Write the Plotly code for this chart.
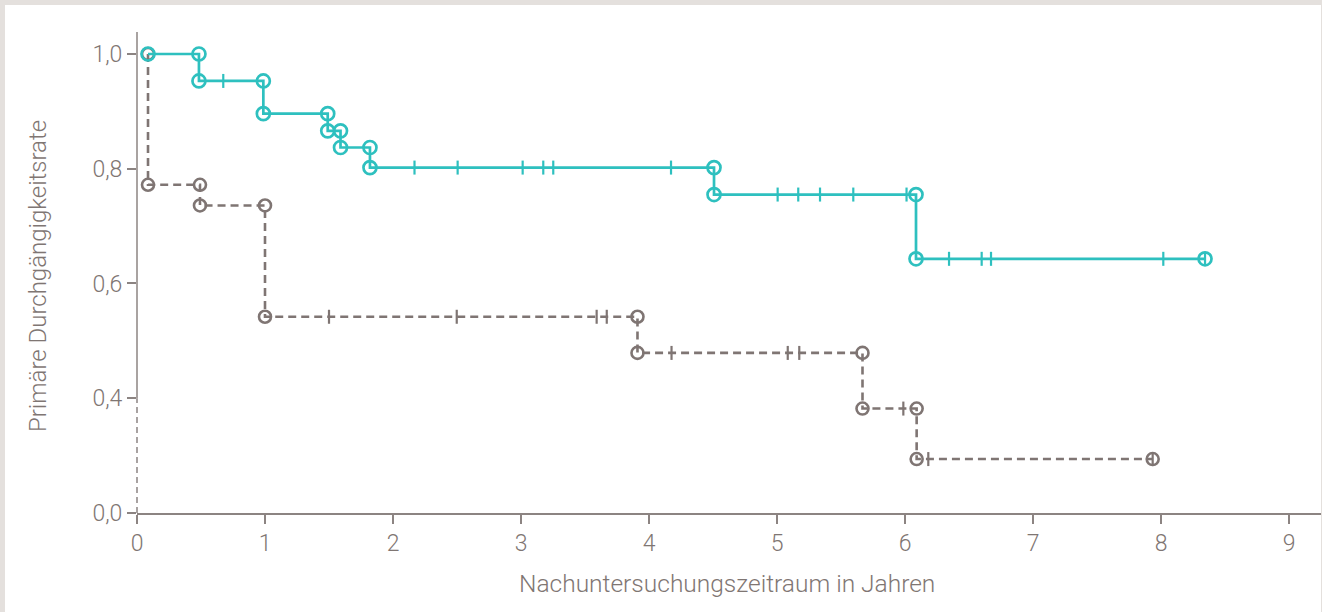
import plotly.graph_objects as go

# Kaplan-Meier curves: primary patency over follow-up time (years)
# Teal group
teal_start_time = 0.086
teal_start_level = 1.0
teal_step_times = [0.484, 0.987, 1.49, 1.59, 1.82, 4.508, 6.086]
teal_step_levels = [0.953, 0.896, 0.866, 0.837, 0.802, 0.755, 0.643]
teal_end_time = 8.344
teal_censored = [0.674, 2.168, 2.505, 3.013, 3.174, 3.252, 4.172, 5.005, 5.166,
                 5.336, 5.596, 6.012, 6.344, 6.599, 6.672, 8.018, 8.344]

# Gray group
gray_start_time = 0.086
gray_start_level = 1.0
gray_step_times = [0.086, 0.492, 1.0, 3.91, 5.668, 6.091]
gray_step_levels = [0.772, 0.736, 0.542, 0.479, 0.382, 0.294]
gray_end_time = 7.935
gray_censored = [1.5, 2.498, 3.591, 3.67, 4.176, 5.084, 5.174, 5.987, 6.182, 7.935]

# Axis ticks (the bottom of the value axis is broken; its lowest tick reads 0,0)
y_tickvals = [0.2, 0.4, 0.6, 0.8, 1.0]
y_ticktext = ["0,0", "0,4", "0,6", "0,8", "1,0"]
x_tickvals = [0, 1, 2, 3, 4, 5, 6, 7, 8, 9]

TEAL = "#2ec0bf"
GRAY = "#7f7573"
AXIS = "#8c8482"
TEXT = "#7f7673"
BORDER = "#e4e0dd"
FONT = "Roboto"

W, H = 1322, 612
ML, MR, MT, MB = 137, 1, 32, 99
X_RANGE = [0, 9.25]
Y_RANGE = [0.2, 1.0383]


def step_path(t0, s0, times, levels, t_end):
    xs, ys = [t0], [s0]
    cur = s0
    for t, s in zip(times, levels):
        if not (xs[-1] == t and ys[-1] == cur):
            xs.append(t)
            ys.append(cur)
        xs.append(t)
        ys.append(s)
        cur = s
    xs.append(t_end)
    ys.append(cur)
    return xs, ys


def level_at(t, t0, s0, times, levels):
    cur = s0
    for tt, s in zip(times, levels):
        if t >= tt:
            cur = s
    return cur


fig = go.Figure()

# Gray group (dashed), drawn first so the teal markers sit above it
gx, gy = step_path(gray_start_time, gray_start_level, gray_step_times,
                   gray_step_levels, gray_end_time)
fig.add_trace(go.Scatter(
    x=gx, y=gy, mode="lines+markers",
    line=dict(color=GRAY, width=2.6, dash="8px,5px"),
    marker=dict(symbol="circle-open", size=12, color=GRAY, line=dict(width=2.6, color=GRAY)),
    hoverinfo="skip", showlegend=False,
))
fig.add_trace(go.Scatter(
    x=gray_censored,
    y=[level_at(t, gray_start_time, gray_start_level, gray_step_times, gray_step_levels)
       for t in gray_censored],
    mode="markers",
    marker=dict(symbol="line-ns", size=10, color=GRAY, line=dict(width=2.2, color=GRAY)),
    hoverinfo="skip", showlegend=False,
))

# Teal group (solid)
tx, ty = step_path(teal_start_time, teal_start_level, teal_step_times,
                   teal_step_levels, teal_end_time)
fig.add_trace(go.Scatter(
    x=tx, y=ty, mode="lines+markers",
    line=dict(color=TEAL, width=2.7),
    marker=dict(symbol="circle-open", size=13, color=TEAL, line=dict(width=2.7, color=TEAL)),
    hoverinfo="skip", showlegend=False,
))
fig.add_trace(go.Scatter(
    x=teal_censored,
    y=[level_at(t, teal_start_time, teal_start_level, teal_step_times, teal_step_levels)
       for t in teal_censored],
    mode="markers",
    marker=dict(symbol="line-ns", size=10, color=TEAL, line=dict(width=2.2, color=TEAL)),
    hoverinfo="skip", showlegend=False,
))

pw = W - ML - MR
ph = H - MT - MB


def px_x(p):
    return (p - ML) / pw


def px_y(p):
    return (H - MB - p) / ph


shapes = [
    # value axis: solid above the break, dashed across the break
    dict(type="line", xref="paper", yref="y", x0=0, x1=0, y0=0.4, y1=Y_RANGE[1],
         line=dict(color=AXIS, width=1.5), layer="above"),
    dict(type="line", xref="paper", yref="y", x0=0, x1=0, y0=Y_RANGE[0], y1=0.4,
         line=dict(color=AXIS, width=1.5, dash="6px,4px"), layer="above"),
    # page frame
    dict(type="rect", xref="paper", yref="paper", x0=px_x(0), x1=px_x(5),
         y0=px_y(H), y1=px_y(0), fillcolor=BORDER, line=dict(width=0), layer="below"),
    dict(type="rect", xref="paper", yref="paper", x0=px_x(0), x1=px_x(W),
         y0=px_y(5), y1=px_y(0), fillcolor=BORDER, line=dict(width=0), layer="below"),
    dict(type="rect", xref="paper", yref="paper", x0=px_x(W - 1), x1=px_x(W),
         y0=px_y(H), y1=px_y(0), fillcolor=BORDER, line=dict(width=0), layer="below"),
]

annotations = [
    dict(text="Nachuntersuchungszeitraum in Jahren", xref="paper", yref="paper",
         x=px_x(727), y=px_y(583), showarrow=False, xanchor="center", yanchor="middle",
         font=dict(family=FONT, size=24.5, color=TEXT, weight=300)),
    dict(text="Primäre Durchgängigkeitsrate", xref="paper", yref="paper",
         x=px_x(38), y=px_y(276), showarrow=False, xanchor="center", yanchor="middle",
         textangle=-90, font=dict(family=FONT, size=24, color=TEXT, weight=300)),
]

fig.update_layout(
    width=W, height=H,
    margin=dict(l=ML, r=MR, t=MT, b=MB, autoexpand=False),
    paper_bgcolor="white", plot_bgcolor="white",
    shapes=shapes, annotations=annotations,
    xaxis=dict(
        range=X_RANGE, tickvals=x_tickvals, ticktext=[str(v) for v in x_tickvals],
        showgrid=False, zeroline=False, showline=True, linecolor=AXIS, linewidth=1.5,
        ticks="outside", ticklen=9, tickwidth=1.5, tickcolor=AXIS,
        tickfont=dict(family=FONT, size=23, color=TEXT, weight=300),
        fixedrange=True,
    ),
    yaxis=dict(
        range=Y_RANGE, tickvals=y_tickvals, ticktext=y_ticktext,
        showgrid=False, zeroline=False, showline=False,
        ticks="outside", ticklen=9, tickwidth=1.5, tickcolor=AXIS,
        tickfont=dict(family=FONT, size=23, color=TEXT, weight=300),
        fixedrange=True,
    ),
)

fig.write_html("out.html")
